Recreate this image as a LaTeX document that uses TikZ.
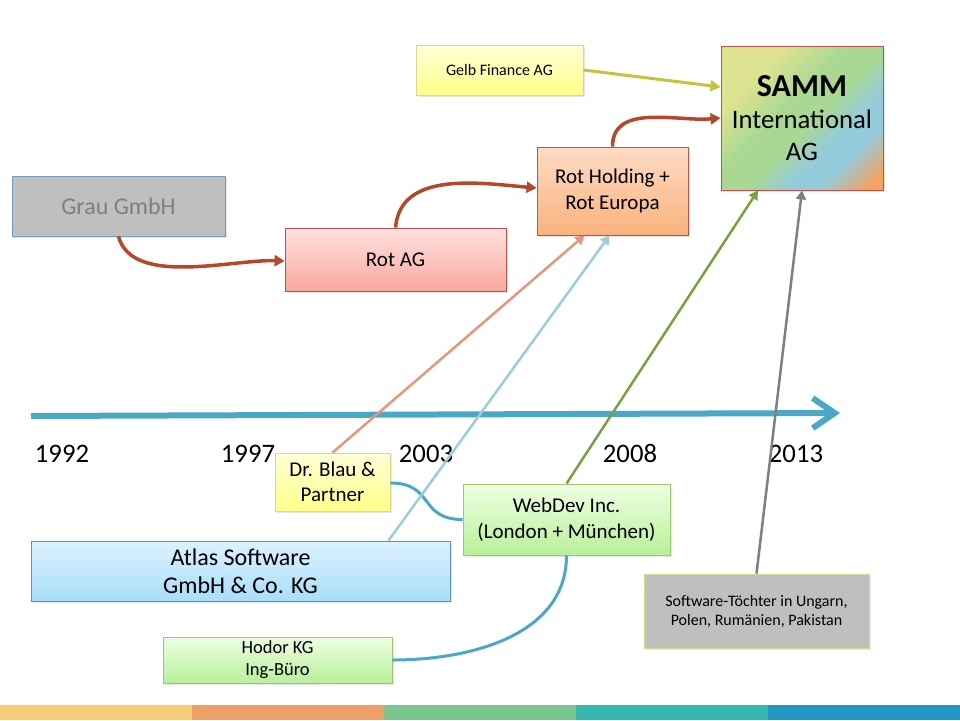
\documentclass[tikz,border=0pt]{standalone}
\usepackage{fontspec}
\setmainfont{Carlito}
\usetikzlibrary{arrows.meta,shadows}

\definecolor{timeline}{HTML}{4BA7C6}
\definecolor{rotline}{HTML}{B5472B}
\definecolor{gelbline}{HTML}{C4C43A}
\definecolor{blauline}{HTML}{E8967A}
\definecolor{atlasline}{HTML}{9BCCDD}
\definecolor{webline}{HTML}{76A23F}
\definecolor{grauline}{HTML}{7F7F7F}
\definecolor{grauedge}{HTML}{6D9EC0}
\definecolor{graufill}{HTML}{BFBFBF}
\definecolor{grautext}{HTML}{7F7F7F}
\definecolor{rotedge}{HTML}{C0504D}
\definecolor{gelbedge}{HTML}{D9D98C}
\definecolor{gruenedge}{HTML}{9BCB6B}
\definecolor{atlasedge}{HTML}{5B8FB8}
\definecolor{rottop}{HTML}{FFE2E0}
\definecolor{rotbottom}{HTML}{FAA79E}
\definecolor{holdtop}{HTML}{FDDCC4}
\definecolor{holdbottom}{HTML}{F9B27C}
\definecolor{gelbtop}{HTML}{FFFFD6}
\definecolor{gelbbottom}{HTML}{FFFF88}
\definecolor{gruentop}{HTML}{EEFFE2}
\definecolor{gruenbottom}{HTML}{B8F09A}
\definecolor{atlastop}{HTML}{DDF2FF}
\definecolor{atlasbottom}{HTML}{A8DEF8}
\definecolor{sammA}{HTML}{DDE391}
\definecolor{sammB}{HTML}{A8D892}
\definecolor{sammC}{HTML}{94CCDC}
\definecolor{sammD}{HTML}{F5A25E}
\definecolor{barA}{HTML}{F7CE76}
\definecolor{barB}{HTML}{F0A066}
\definecolor{barC}{HTML}{7BC68E}
\definecolor{barD}{HTML}{34B8B0}
\definecolor{barE}{HTML}{2396C4}

\pgfdeclarehorizontalshading{sammshading}{100bp}{color(0bp)=(sammA); color(30bp)=(sammA); color(44bp)=(sammB); color(53bp)=(sammB); color(63bp)=(sammC); color(70bp)=(sammC); color(82bp)=(sammD); color(100bp)=(sammD)}

\begin{document}
\begin{tikzpicture}[x=1pt,y=-1pt,
    box/.style={draw, line width=0.8pt, inner sep=0pt, align=center,
        drop shadow={shadow xshift=1.5pt, shadow yshift=-1.5pt, opacity=0.2}},
    rotarrow/.style={rotline, line width=3.5pt, -{Triangle[length=10pt,width=11pt]}},
    thinarrow/.style={line width=2.5pt, -{Triangle[length=9pt,width=10pt]}},
    link/.style={timeline, line width=3pt},
    year/.style={anchor=base, font=\fontsize{26.7}{32}\selectfont}]
\useasboundingbox (0,0) rectangle (960,720);

\coordinate (tstart) at (31,416);
\coordinate (tend) at (840,413);
\draw[timeline, line width=6pt, -{Straight Barb[length=22pt,width=30pt]}] (tstart) -- (tend);

\node[year] (y1992) at (62,462) {1992};
\node[year] (y1997) at (248,462) {1997};
\node[year] (y2003) at (426,462) {2003};
\node[year] (y2008) at (630,462) {2008};
\node[year] (y2013) at (796,462) {2013};

\node[box, draw=grauedge, fill=graufill, text=grautext, minimum width=213pt, minimum height=60pt,
    font=\fontsize{24}{29}\selectfont] (grau) at (118.5,206) {Grau GmbH};
\node[box, draw=rotedge, top color=rottop, bottom color=rotbottom, minimum width=221pt, minimum height=63pt,
    font=\fontsize{21}{26}\selectfont] (rotag) at (395.5,259.5) {Rot AG};
\node[box, draw=rotedge, top color=holdtop, bottom color=holdbottom, minimum width=151pt, minimum height=88pt,
    font=\fontsize{21}{26}\selectfont] (rotholding) at (612.5,191) {Rot Holding +\\Rot Europa};
\node[box, draw=gelbedge, top color=gelbtop, bottom color=gelbbottom, minimum width=167pt, minimum height=50pt,
    font=\fontsize{16}{19}\selectfont] (gelb) at (499.5,70) {Gelb Finance AG};
\node[box, draw=rotedge, shading=sammshading, shading angle=-45, minimum width=162pt, minimum height=144pt,
    font=\fontsize{26.7}{32}\selectfont] (samm) at (802,118) {{\fontsize{32}{34}\selectfont\bfseries SAMM}\\International\\AG};
\node[box, draw=gelbedge, top color=gelbtop, bottom color=gelbbottom, minimum width=115pt, minimum height=58pt,
    font=\fontsize{21}{25}\selectfont] (blau) at (332.5,482) {Dr. Blau \&\\Partner};
\node[box, draw=gruenedge, top color=gruentop, bottom color=gruenbottom, minimum width=207pt, minimum height=71pt,
    font=\fontsize{21}{26}\selectfont] (webdev) at (566.5,519.5) {WebDev Inc.\\(London + München)};
\node[box, draw=atlasedge, top color=atlastop, bottom color=atlasbottom, minimum width=419pt, minimum height=60pt,
    font=\fontsize{24}{28}\selectfont] (atlas) at (240.5,571) {Atlas Software\\GmbH \& Co. KG};
\node[box, draw=gruenedge, top color=gruentop, bottom color=gruenbottom, minimum width=229pt, minimum height=46pt,
    font=\fontsize{18.5}{22}\selectfont] (hodor) at (277.5,660) {Hodor KG\\Ing-Büro};
\node[box, draw=gelbedge, fill=graufill, minimum width=225pt, minimum height=74pt,
    font=\fontsize{16}{19}\selectfont] (toechter) at (756.5,611) {Software-Töchter in Ungarn,\\Polen, Rumänien, Pakistan};

\draw[rotarrow] (grau.south) to[out=-75,in=178,looseness=0.8] ([yshift=-1.5pt]rotag.west);
\draw[rotarrow] (rotag.north) to[out=85,in=175] ([yshift=3pt]rotholding.west);
\draw[rotarrow] (rotholding.north) to[out=90,in=185] (samm.west);
\draw[gelbline, line width=3pt, -{Triangle[length=10pt,width=11pt]}] (gelb.east) -- ([yshift=31pt]samm.west);

\draw[link] ([yshift=-1pt]blau.east) to[out=0,in=180,looseness=1.4] (webdev.west);
\draw[link] (webdev.south) to[out=-90,in=0] (hodor.east);

\draw[thinarrow, blauline] (blau.north) -- ([xshift=-28pt]rotholding.south);
\draw[thinarrow, atlasline] ([xshift=148pt]atlas.north) -- ([xshift=-3pt]rotholding.south);
\draw[thinarrow, webline] (webdev.north) -- ([xshift=-44pt]samm.south);
\draw[thinarrow, grauline] (toechter.north) -- (samm.south);

\foreach \c [count=\i from 0] in {barA,barB,barC,barD,barE}
    \fill[\c] (\i*192,705) rectangle (\i*192+192,720);
\end{tikzpicture}
\end{document}
